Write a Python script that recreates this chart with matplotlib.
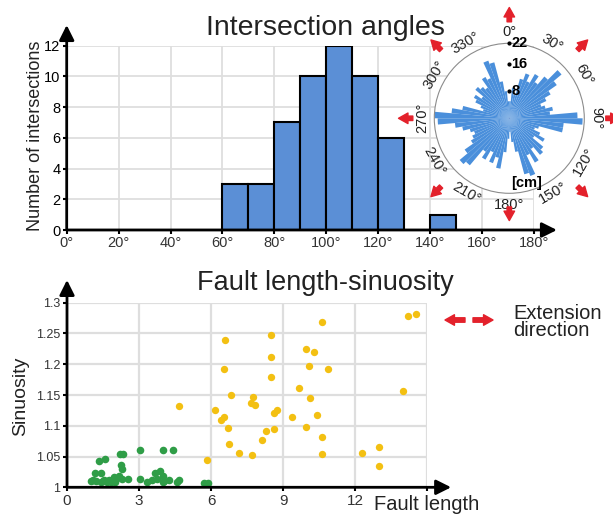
import numpy as np
import matplotlib.pyplot as plt

plt.rcParams['font.family'] = ['Liberation Sans', 'DejaVu Sans']

# --- histogram of intersection angles (10 degree bins) ---
angle_edges = np.arange(0, 190, 10)
angle_counts = [0, 0, 0, 0, 0, 0, 3, 3, 7, 10, 12, 10, 6, 0, 1, 0, 0, 0]
angle_ticks = [0, 20, 40, 60, 80, 100, 120, 140, 160, 180]
count_ticks = [0, 2, 4, 6, 8, 10, 12]

# --- rose diagram, fault length per 5 degree sector [cm] ---
rose_0_180 = [5, 9, 7, 12, 14, 12, 15, 13, 16, 20, 17, 14, 12, 10, 11, 13, 12, 20,
              21.5, 16, 16, 9, 8, 10, 12, 9, 13, 14, 11, 15, 12, 18, 17, 10, 7, 4]
rose_180_360 = [6, 10, 15, 12, 14, 11, 14, 12, 18, 19, 16, 13, 12, 11, 12, 14, 16, 21,
                22, 17, 14, 8, 9, 11, 12, 10, 13, 12, 11, 14, 13, 18, 17, 11, 8, 5]
rose_rings = [8, 16, 22]
rose_dirs = [0, 30, 60, 90, 120, 150, 180, 210, 240, 270, 300, 330]
ext_dirs = [0, 45, 90, 135, 180, 225, 270, 315]

# --- fault length vs sinuosity ---
green_len = [0.98, 1.1, 1.17, 1.20, 1.33, 1.40, 1.40, 1.5, 1.55, 1.58, 1.65, 1.66, 1.75,
             1.84, 1.91, 1.95, 2.0, 2.05, 2.18, 2.20, 2.27, 2.29, 2.29, 2.34, 2.55, 3.03,
             3.06, 3.33, 3.54, 3.68, 3.75, 3.88, 4.00, 4.02, 4.02, 4.06, 4.23, 4.41,
             4.60, 4.68, 5.72, 5.88]
green_sin = [1.011, 1.012, 1.023, 1.011, 1.042, 1.023, 1.009, 1.010, 1.012, 1.046, 1.008,
             1.011, 1.012, 1.008, 1.011, 1.016, 1.008, 1.014, 1.019, 1.054, 1.036, 1.029,
             1.014, 1.054, 1.013, 1.014, 1.060, 1.009, 1.012, 1.024, 1.014, 1.027, 1.009,
             1.019, 1.060, 1.011, 1.012, 1.060, 1.009, 1.012, 1.007, 1.007]
yellow_len = [4.68, 5.82, 6.17, 6.42, 6.55, 6.59, 6.55, 6.84, 6.70, 6.74, 7.16, 7.70,
              7.76, 7.66, 7.83, 8.12, 8.29, 8.48, 8.48, 8.51, 8.62, 8.73, 8.63, 9.38,
              9.66, 9.96, 10.29, 10.10, 10.13, 9.96, 10.41, 10.61, 10.63, 10.63, 10.88,
              12.29, 12.98, 12.98, 13.98, 14.20, 14.53]
yellow_sin = [1.132, 1.045, 1.125, 1.110, 1.114, 1.239, 1.192, 1.150, 1.097, 1.071, 1.056,
              1.053, 1.147, 1.137, 1.134, 1.077, 1.091, 1.247, 1.212, 1.179, 1.120, 1.125,
              1.095, 1.114, 1.161, 1.224, 1.220, 1.197, 1.145, 1.098, 1.118, 1.269, 1.082,
              1.054, 1.193, 1.055, 1.066, 1.035, 1.156, 1.279, 1.282]
len_ticks = [0, 3, 6, 9, 12]
sin_ticks = [1, 1.05, 1.1, 1.15, 1.2, 1.25, 1.3]

W, H = 613, 515


def box(x0, y0, x1, y1):
    # pixel box (y from top) -> figure fraction rect
    return [x0 / W, 1 - y1 / H, (x1 - x0) / W, (y1 - y0) / H]


def axis_arrows(ax, xend, yend):
    arrow = dict(arrowstyle='-|>,head_length=0.9,head_width=0.45', lw=2, color='k',
                 shrinkA=0, shrinkB=0)
    ax.annotate('', xy=(xend, 0), xytext=(0, 0), xycoords='axes fraction',
                arrowprops=arrow, annotation_clip=False)
    ax.annotate('', xy=(0, yend), xytext=(0, 0), xycoords='axes fraction',
                arrowprops=arrow, annotation_clip=False)
    for s in ax.spines.values():
        s.set_visible(False)


fig = plt.figure(figsize=(W / 100, H / 100), dpi=100)

# ---------------- histogram ----------------
ax1 = fig.add_axes(box(66.7, 45.7, 534, 230))
ax1.bar(angle_edges[:-1], angle_counts, width=10, align='edge', color='#5b8fd6',
        edgecolor='k', linewidth=1.5, zorder=3)
ax1.set_xlim(0, 180)
ax1.set_ylim(0, 12)
ax1.set_xticks(angle_ticks)
ax1.set_xticklabels([f'{a}°' for a in angle_ticks])
ax1.set_yticks(count_ticks)
ax1.tick_params(labelsize=10.5, length=3, width=1.5, pad=1.5, colors='k')
ax1.tick_params(axis='x', labelcolor='#333333')
ax1.grid(True, color='#dedede', lw=1.3, zorder=0)
axis_arrows(ax1, 1.049, 1.112)
fig.text(36 / W, 1 - 136 / H, 'Number of intersections', rotation=90, fontsize=13,
         ha='center', va='center', color='#222222')
fig.text(325 / W, 1 - 35 / H, 'Intersection angles', fontsize=20.5, ha='center',
         va='baseline', color='#222222')

# ---------------- rose diagram ----------------
cx, cy, rad = 509.3, 118.3, 75
axr = fig.add_axes(box(cx - rad, cy - rad, cx + rad, cy + rad), projection='polar')
axr.set_theta_zero_location('N')
axr.set_theta_direction(-1)
rose = rose_0_180 + rose_180_360
theta = np.deg2rad(np.arange(2.5, 360, 5))
axr.bar(theta, rose, width=np.deg2rad(5), color='#4a8fdb', edgecolor='none', zorder=2)
axr.set_ylim(0, 22)
axr.set_xticks([])
axr.set_yticks([])
axr.grid(False)
axr.spines['polar'].set_color('#8c8c8c')
axr.spines['polar'].set_linewidth(0.8)
axr.plot([0] * len(rose_rings), rose_rings, 'k.', ms=4, clip_on=False, zorder=4)
for r in rose_rings:
    axr.annotate(str(r), xy=(0, r), xytext=(1.5, 0), textcoords='offset points',
                 fontsize=10.5, fontweight='bold', ha='left', va='center',
                 annotation_clip=False, zorder=5)
axr.text(np.deg2rad(165), 19.5, '[cm]', fontsize=10.5, fontweight='bold',
         ha='center', va='center')
for d in rose_dirs:
    if d <= 90:
        rot = -d
    elif d < 270:
        rot = 180 - d
    else:
        rot = 360 - d
    axr.text(np.deg2rad(d), 25.4, f'{d}°', rotation=rot, rotation_mode='anchor',
             fontsize=10.5, ha='center', va='center', clip_on=False, color='#222222')
red_arrow = dict(arrowstyle='simple,head_length=0.85,head_width=0.95,tail_width=0.4',
                 color='#e3212b', shrinkA=0, shrinkB=0, mutation_scale=8)
for d in ext_dirs:
    r0, r1 = (26, 30) if d == 180 else (28.3, 32.5)
    axr.annotate('', xy=(np.deg2rad(d), r1), xytext=(np.deg2rad(d), r0),
                 arrowprops=red_arrow, annotation_clip=False)

# ---------------- scatter ----------------
ax2 = fig.add_axes(box(67, 302.7, 427, 487.3))
ax2.scatter(green_len, green_sin, s=30, color='#2f9d47', zorder=3, linewidths=0)
ax2.scatter(yellow_len, yellow_sin, s=28, color='#f3c012', zorder=3, linewidths=0)
ax2.set_xlim(0, 15)
ax2.set_ylim(1, 1.3)
ax2.set_yticks(sin_ticks)
ax2.set_yticklabels(['1', '1.05', '1.1', '1.15', '1.2', '1.25', '1.3'])
ax2.set_xticks(len_ticks + [15])
ax2.set_xticklabels([str(t) for t in len_ticks] + [''])
ax2.tick_params(axis='y', labelsize=9, length=3, width=1.5, pad=2, labelcolor='#333333')
ax2.tick_params(axis='x', labelsize=11, length=3, width=1.5, pad=2, labelcolor='#333333')
ax2.grid(True, color='#dedede', lw=1.6, zorder=0)
axis_arrows(ax2, 1.067, 1.123)
fig.text(21 / W, 1 - 396 / H, 'Sinuosity', rotation=90, fontsize=14, ha='center',
         va='center', color='#222222')
fig.text(374 / W, 1 - 510 / H, 'Fault length', fontsize=14.5, ha='left',
         va='baseline', color='#222222')
fig.text(325 / W, 1 - 290 / H, 'Fault length-sinuosity', fontsize=19.5, ha='center',
         va='baseline', color='#222222')

# legend for the red arrows
ax2.annotate('', xy=(445 / W, 1 - 320 / H), xytext=(465 / W, 1 - 320 / H),
             xycoords='figure fraction', arrowprops=red_arrow, annotation_clip=False)
ax2.annotate('', xy=(493 / W, 1 - 320 / H), xytext=(473 / W, 1 - 320 / H),
             xycoords='figure fraction', arrowprops=red_arrow, annotation_clip=False)
fig.text(513 / W, 1 - 304 / H, 'Extension\ndirection', fontsize=14.5, ha='left',
         va='top', linespacing=0.9, color='#222222')

fig.savefig('out.png', dpi=100)
